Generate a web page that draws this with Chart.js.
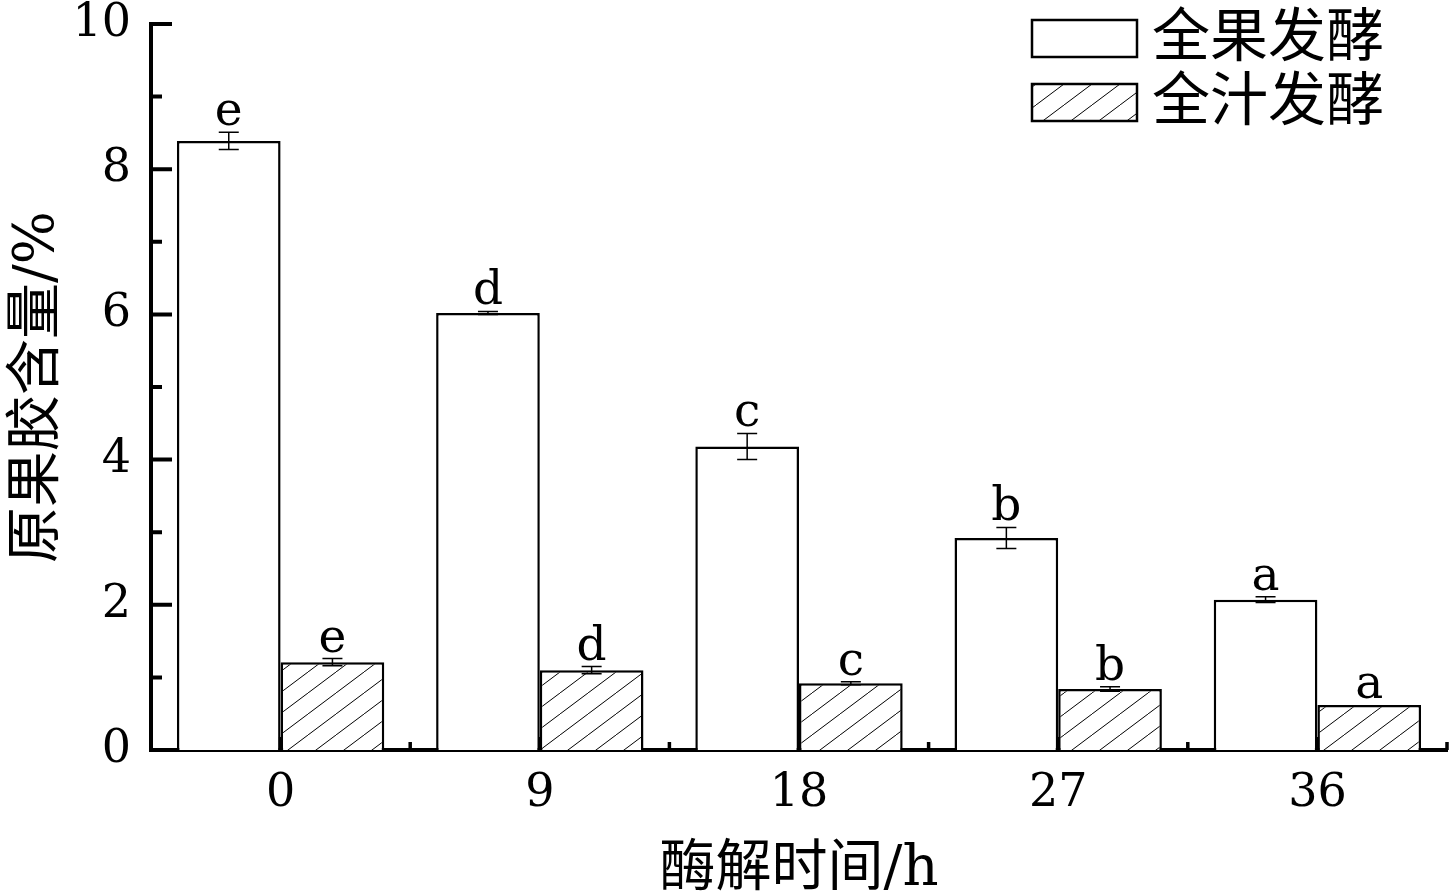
<!DOCTYPE html>
<html>
<head>
<meta charset="utf-8">
<script src="https://cdn.jsdelivr.net/npm/chart.js@4.4.0/dist/chart.umd.min.js"></script>
<style>
  html, body { margin: 0; padding: 0; background: #fff; }
  #wrap { width: 1450px; height: 893px; }
</style>
</head>
<body>
<div id="wrap"><canvas id="chart" width="1450" height="893"></canvas></div>
<script>
// data
const categories = ['0', '9', '18', '27', '36'];
const seriesNames = ['全果发酵', '全汁发酵'];
const wholeFruit = [8.39, 6.02, 4.18, 2.92, 2.07];
const wholeFruitErr = [0.12, 0.02, 0.18, 0.145, 0.04];
const wholeFruitLetters = ['e', 'd', 'c', 'b', 'a'];
const wholeJuice = [1.21, 1.10, 0.92, 0.84, 0.62];
const wholeJuiceErr = [0.05, 0.05, 0.02, 0.03, 0.0];
const wholeJuiceLetters = ['e', 'd', 'c', 'b', 'a'];
const yMajorTicks = [0, 2, 4, 6, 8, 10];
const yMinorTicks = [1, 3, 5, 7, 9];

const serif = "'DejaVu Serif', 'Liberation Serif', serif";
const cjk = "'DejaVu Serif', 'Noto Sans CJK SC', sans-serif";

// diagonal hatch fill
function makeHatch() {
  const w = 28, h = 21;
  const c = document.createElement('canvas');
  c.width = w; c.height = h;
  const g = c.getContext('2d');
  g.fillStyle = '#fff';
  g.fillRect(0, 0, w, h);
  g.strokeStyle = '#000';
  g.lineWidth = 1;
  for (let k = -1; k <= 1; k++) {
    g.beginPath();
    g.moveTo(k * w, h);
    g.lineTo(k * w + w, 0);
    g.stroke();
  }
  return document.getElementById('chart').getContext('2d').createPattern(c, 'repeat');
}
const hatch = makeHatch();

const errors = [wholeFruitErr, wholeJuiceErr];
const letters = [wholeFruitLetters, wholeJuiceLetters];

// error bars + significance letters
const errorBarPlugin = {
  id: 'errorBars',
  afterDatasetsDraw(chart) {
    const ctx = chart.ctx;
    const y = chart.scales.y;
    ctx.save();
    chart.data.datasets.forEach((ds, di) => {
      const meta = chart.getDatasetMeta(di);
      meta.data.forEach((bar, i) => {
        const v = ds.data[i];
        const e = errors[di][i];
        const top = y.getPixelForValue(v + e);
        const bot = y.getPixelForValue(v - e);
        if (e > 0) {
          ctx.strokeStyle = '#000';
          ctx.lineWidth = 1.5;
          ctx.beginPath();
          ctx.moveTo(bar.x, top); ctx.lineTo(bar.x, bot);
          ctx.moveTo(bar.x - 10, top); ctx.lineTo(bar.x + 10, top);
          ctx.moveTo(bar.x - 10, bot); ctx.lineTo(bar.x + 10, bot);
          ctx.stroke();
        }
        ctx.fillStyle = '#000';
        ctx.font = '47px ' + serif;
        ctx.textAlign = 'center';
        ctx.textBaseline = 'alphabetic';
        ctx.fillText(letters[di][i], bar.x, Math.min(top, bar.y) - 7);
      });
    });
    ctx.restore();
  }
};

// inward tick marks and the legend
const decorPlugin = {
  id: 'decor',
  afterDraw(chart) {
    const ctx = chart.ctx;
    const x = chart.scales.x, y = chart.scales.y;
    const area = chart.chartArea;
    ctx.save();
    ctx.strokeStyle = '#000';
    ctx.lineWidth = 4;
    ctx.beginPath();
    yMajorTicks.forEach(t => {
      const py = y.getPixelForValue(t);
      ctx.moveTo(area.left, py); ctx.lineTo(area.left + 21, py);
    });
    yMinorTicks.forEach(t => {
      const py = y.getPixelForValue(t);
      ctx.moveTo(area.left, py); ctx.lineTo(area.left + 11, py);
    });
    ctx.stroke();
    ctx.lineWidth = 3.5;
    ctx.beginPath();
    categories.forEach((c, i) => {
      const px = x.getPixelForValue(i);
      ctx.moveTo(px, area.bottom); ctx.lineTo(px, area.bottom - 13);
      const half = (x.getPixelForValue(1) - x.getPixelForValue(0)) / 2;
      ctx.moveTo(px + half, area.bottom); ctx.lineTo(px + half, area.bottom - 8);
    });
    ctx.stroke();

    // legend
    const boxes = [[1032, 20], [1032, 84]];
    chart.data.datasets.forEach((ds, di) => {
      const [bx, by] = boxes[di];
      ctx.fillStyle = ds.backgroundColor;
      ctx.fillRect(bx, by, 105, 37);
      ctx.lineWidth = 2.5;
      ctx.strokeStyle = '#000';
      ctx.strokeRect(bx, by, 105, 37);
      ctx.fillStyle = '#000';
      ctx.font = '58px ' + cjk;
      ctx.textAlign = 'left';
      ctx.textBaseline = 'middle';
      ctx.fillText(ds.label, 1152, by + 21);
    });
    ctx.restore();
  }
};

new Chart(document.getElementById('chart'), {
  type: 'bar',
  data: {
    labels: categories,
    datasets: [
      {
        label: seriesNames[0],
        data: wholeFruit,
        backgroundColor: '#ffffff',
        borderColor: '#000000',
        borderWidth: 2.5
      },
      {
        label: seriesNames[1],
        data: wholeJuice,
        backgroundColor: hatch,
        borderColor: '#000000',
        borderWidth: 2.5
      }
    ]
  },
  options: {
    responsive: false,
    animation: false,
    devicePixelRatio: 1,
    layout: { padding: { top: 24, right: 3, left: 0, bottom: 0 } },
    datasets: { bar: { categoryPercentage: 0.8, barPercentage: 1.0 } },
    plugins: { legend: { display: false }, tooltip: { enabled: false } },
    scales: {
      x: {
        grid: { display: false, drawTicks: false },
        border: { display: true, color: '#000', width: 4 },
        ticks: { color: '#000', font: { family: serif, size: 46 }, padding: 16 },
        title: {
          display: true,
          text: '酶解时间/h',
          color: '#000',
          font: { family: cjk, size: 56, lineHeight: 1.15 },
          padding: { top: 0, bottom: -10 }
        },
        afterFit(scale) { scale.height = 143; scale.paddingLeft = 0; scale.paddingRight = 0; }
      },
      y: {
        min: 0,
        max: 10,
        grid: { display: false, drawTicks: false },
        border: { display: true, color: '#000', width: 4 },
        ticks: { stepSize: 2, color: '#000', font: { family: serif, size: 46 }, padding: 20 },
        title: {
          display: true,
          text: '原果胶含量/%',
          color: '#000',
          font: { family: cjk, size: 56, lineHeight: 1.15 },
          padding: { top: 6, bottom: 0 }
        },
        afterFit(scale) { scale.width = 151; scale.paddingTop = 0; scale.paddingBottom = 0; }
      }
    }
  },
  plugins: [errorBarPlugin, decorPlugin]
});
</script>
</body>
</html>
